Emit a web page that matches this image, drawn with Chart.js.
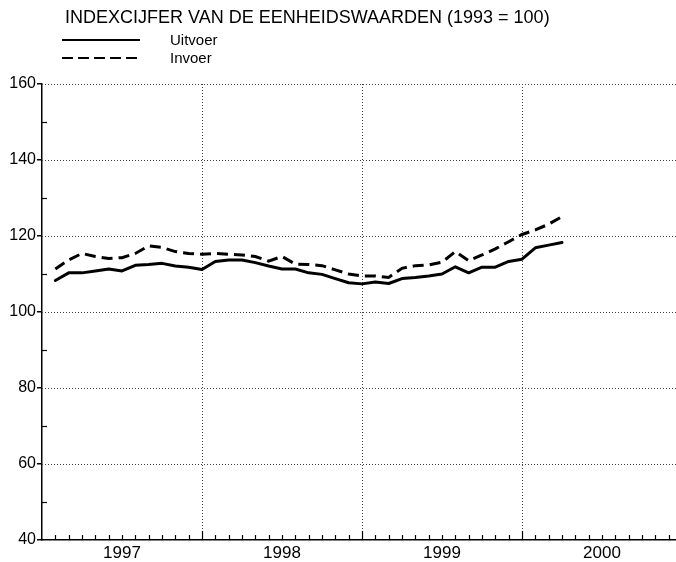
<!DOCTYPE html>
<html>
<head>
<meta charset="utf-8">
<script src="https://cdn.jsdelivr.net/npm/chart.js@4/dist/chart.umd.min.js"></script>
<style>
  html, body { margin:0; padding:0; background:#fff; overflow:hidden; }
  #wrap { position:relative; width:676px; height:562px; overflow:hidden; font-family:'Liberation Sans', Arial, sans-serif; color:#000; }
  #c { position:absolute; left:0; top:0; }
  .txt { position:absolute; white-space:nowrap; }
</style>
</head>
<body>
<div id="wrap">
  <canvas id="c" width="690" height="562"></canvas>
  <div class="txt" style="left:65px;top:7px;font-size:18px;">INDEXCIJFER VAN DE EENHEIDSWAARDEN (1993 = 100)</div>
  <svg style="position:absolute;left:0;top:0" width="200" height="70">
    <line x1="62" y1="40" x2="140" y2="40" stroke="#000" stroke-width="2"/>
    <line x1="62" y1="58" x2="140" y2="58" stroke="#000" stroke-width="2" stroke-dasharray="11,5"/>
  </svg>
  <div class="txt" style="left:170px;top:31px;font-size:15px;">Uitvoer</div>
  <div class="txt" style="left:170px;top:49px;font-size:15px;">Invoer</div>
</div>
<script>
// ---- data ----
const months = [
  '1997-01','1997-02','1997-03','1997-04','1997-05','1997-06','1997-07','1997-08','1997-09','1997-10','1997-11','1997-12',
  '1998-01','1998-02','1998-03','1998-04','1998-05','1998-06','1998-07','1998-08','1998-09','1998-10','1998-11','1998-12',
  '1999-01','1999-02','1999-03','1999-04','1999-05','1999-06','1999-07','1999-08','1999-09','1999-10','1999-11','1999-12',
  '2000-01','2000-02','2000-03'
];
const uitvoer = [
  108.3,110.3,110.3,110.8,111.3,110.8,112.3,112.5,112.8,112.1,111.8,111.2,
  113.3,113.7,113.7,113.0,112.1,111.3,111.3,110.3,109.9,108.8,107.7,107.4,
  107.9,107.5,108.8,109.1,109.5,110.0,111.9,110.3,111.8,111.8,113.3,113.9,
  116.9,117.6,118.3
];
const invoer = [
  111.3,113.7,115.4,114.6,114.1,114.3,115.4,117.4,117.0,115.9,115.4,115.2,
  115.4,115.2,115.0,114.6,113.4,114.6,112.6,112.5,112.2,111.1,110.0,109.5,
  109.5,109.1,111.5,112.2,112.4,113.1,115.9,113.5,115.0,116.6,118.5,120.4,
  121.6,123.1,125.1
];
const years = ['1997','1998','1999','2000'];
const yTicks = [40, 60, 80, 100, 120, 140, 160];
const firstYear = 1997;

// month string -> position on the month axis (end of month)
function monthPos(s) {
  const [y, m] = s.split('-').map(Number);
  return (y - firstYear) * 12 + m;
}
const toPoints = vals => vals.map((v, i) => ({ x: monthPos(months[i]), y: v }));

const marks = {
  id: 'marks',
  beforeDatasetsDraw(chart) {
    const ctx = chart.ctx, xs = chart.scales.x, ys = chart.scales.y, a = chart.chartArea;
    ctx.save();
    ctx.strokeStyle = '#444'; ctx.lineWidth = 1; ctx.setLineDash([1, 2]);
    // horizontal dotted grid lines
    yTicks.forEach(v => {
      if (v === yTicks[0]) return;
      const py = Math.round(ys.getPixelForValue(v)) + 0.5;
      ctx.beginPath(); ctx.moveTo(a.left, py); ctx.lineTo(a.right, py); ctx.stroke();
    });
    // vertical dotted year separators
    for (let i = 1; i < years.length; i++) {
      const px = Math.round(xs.getPixelForValue(i * 12)) + 0.5;
      ctx.beginPath(); ctx.moveTo(px, a.top); ctx.lineTo(px, a.bottom); ctx.stroke();
    }
    ctx.setLineDash([]);
    ctx.strokeStyle = '#000'; ctx.lineWidth = 1.2;
    // month ticks on x axis (inside)
    for (let m = 1; m <= years.length * 12; m++) {
      const px = Math.round(xs.getPixelForValue(m)) + 0.5;
      const len = (m % 12 === 0) ? 9 : 5;
      ctx.beginPath(); ctx.moveTo(px, a.bottom); ctx.lineTo(px, a.bottom - len); ctx.stroke();
    }
    // minor y ticks (inside)
    for (let i = 0; i < yTicks.length - 1; i++) {
      const v = (yTicks[i] + yTicks[i + 1]) / 2;
      const py = Math.round(ys.getPixelForValue(v)) + 0.5;
      ctx.beginPath(); ctx.moveTo(a.left, py); ctx.lineTo(a.left + 5, py); ctx.stroke();
    }
    ctx.restore();
  }
};

new Chart(document.getElementById('c'), {
  type: 'line',
  data: {
    datasets: [
      { label: 'Uitvoer', data: toPoints(uitvoer), borderColor: '#000', borderWidth: 3,
        pointRadius: 0, tension: 0, fill: false, borderJoinStyle: 'round', borderCapStyle: 'round' },
      { label: 'Invoer', data: toPoints(invoer), borderColor: '#000', borderWidth: 3, borderDash: [11, 6],
        pointRadius: 0, tension: 0, fill: false }
    ]
  },
  options: {
    responsive: false,
    devicePixelRatio: 1,
    animation: false,
    layout: { padding: { top: 84, right: 8, left: 0, bottom: 0 } },
    plugins: { legend: { display: false }, tooltip: { enabled: false }, title: { display: false } },
    scales: {
      x: {
        type: 'linear', min: 0, max: years.length * 12,
        afterFit: s => { s.height = 22; },
        afterBuildTicks: s => { s.ticks = years.map((y, i) => ({ value: i * 12 + 6 })); },
        ticks: {
          autoSkip: false, maxRotation: 0, padding: 3, color: '#000',
          font: { family: "'Liberation Sans', Arial, sans-serif", size: 17 },
          callback: v => years[Math.round((v - 6) / 12)]
        },
        grid: { display: false, drawTicks: false },
        border: { display: true, color: '#000', width: 1.5 }
      },
      y: {
        min: 40, max: 160,
        afterFit: s => { s.width = 42; },
        afterBuildTicks: s => { s.ticks = yTicks.map(v => ({ value: v })); },
        ticks: { color: '#000', padding: 1, font: { family: "'Liberation Sans', Arial, sans-serif", size: 16 } },
        grid: {
          drawOnChartArea: false,
          color: '#000', lineWidth: 1.5,
          tickLength: 5, tickColor: '#000', tickWidth: 1.5
        },
        border: { display: true, color: '#000', width: 1.5 }
      }
    }
  },
  plugins: [marks]
});
</script>
</body>
</html>
